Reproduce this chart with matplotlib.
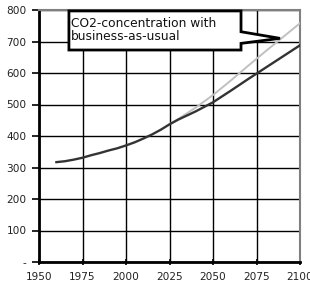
import matplotlib
matplotlib.use("Agg")
import matplotlib.pyplot as plt
from matplotlib.patches import Polygon
from matplotlib.ticker import FixedLocator, FixedFormatter

plt.rcParams['font.family'] = ['DejaVu Sans']

# Data
years_hist = [1960, 1965, 1970, 1975, 1980, 1985, 1990, 1995, 2000, 2005,
              2010, 2015, 2020, 2025, 2030, 2040, 2050, 2060, 2070, 2080,
              2090, 2100]
co2_dark = [317, 320, 325, 331, 339, 346, 354, 361, 370, 380,
            392, 405, 420, 437, 452, 478, 507, 543, 580, 616,
            652, 688]
years_bau = [2025, 2030, 2040, 2050, 2060, 2070, 2080, 2090, 2100]
co2_bau = [437, 454, 490, 530, 575, 622, 668, 713, 758]

x_ticks = [1950, 1975, 2000, 2025, 2050, 2075, 2100]
y_ticks = [0, 100, 200, 300, 400, 500, 600, 700, 800]
y_tick_labels = ['-', '100', '200', '300', '400', '500', '600', '700', '800']
callout_text = "CO2-concentration with\nbusiness-as-usual"

fig = plt.figure(figsize=(3.10, 2.84), dpi=100)
ax = fig.add_axes([39/310, 22/284, 261/310, 252/284])

ax.plot(years_bau, co2_bau, color='#c0c0c0', lw=1.4, zorder=3)
ax.plot(years_hist, co2_dark, color='#333333', lw=1.7, zorder=4)

ax.set_xlim(1950, 2100)
ax.set_ylim(0, 800)
ax.xaxis.set_major_locator(FixedLocator(x_ticks))
ax.yaxis.set_major_locator(FixedLocator(y_ticks))
ax.yaxis.set_major_formatter(FixedFormatter(y_tick_labels))
ax.grid(True, color='black', lw=1.0, zorder=1)
ax.set_axisbelow(True)

for s in ['left', 'bottom']:
    ax.spines[s].set_color('black')
    ax.spines[s].set_linewidth(2)
for s in ['top', 'right']:
    ax.spines[s].set_color('#808080')
    ax.spines[s].set_linewidth(1.5)

ax.tick_params(axis='y', direction='out', length=5, width=1.2, labelsize=7.6,
               colors='black', labelcolor='#222222', pad=4)
ax.tick_params(axis='x', direction='inout', length=5, width=1.2, labelsize=7.6,
               colors='black', labelcolor='#222222', pad=5)

# Callout box
poly = Polygon([(1967.2, 797), (2066.1, 797), (2066.1, 731), (2088.5, 710),
                (2066.1, 694), (2066.1, 673), (1967.2, 673)],
               closed=True, facecolor='white', edgecolor='black', lw=2,
               zorder=5, clip_on=False)
ax.add_patch(poly)
ax.text(1968.4, 736, callout_text, fontsize=8.8, va='center', ha='left',
        color='#111111', zorder=6, linespacing=1.0)

fig.savefig('out.png', dpi=100)
